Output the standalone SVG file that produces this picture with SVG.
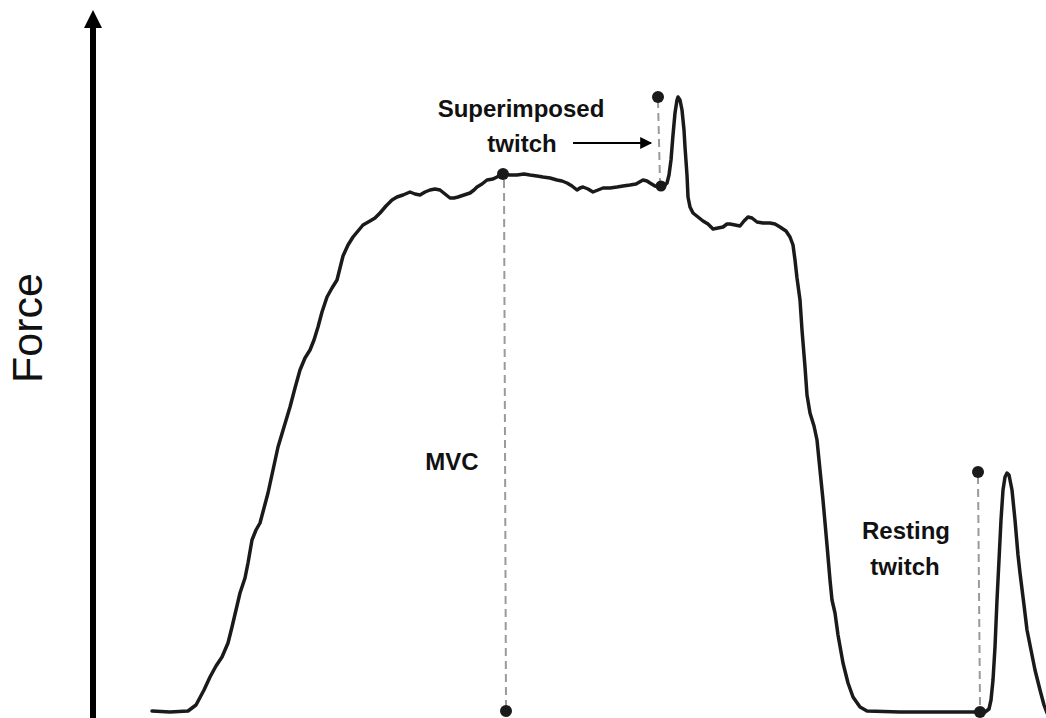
<svg xmlns="http://www.w3.org/2000/svg" width="1046" height="718" viewBox="0 0 1046 718">
<style>
.lbl{font-family:"Liberation Sans",Arial,sans-serif;font-weight:bold;font-size:24px;fill:#111;text-anchor:middle}
.axis-lbl{font-family:"Liberation Sans",Arial,sans-serif;font-size:43px;fill:#111;text-anchor:middle}
.dash{stroke:#9a9a9a;stroke-width:2;stroke-dasharray:8 5;fill:none}
.dot{fill:#1a1a1a}
.curve{fill:none;stroke:#1a1a1a;stroke-width:3.5;stroke-linejoin:round;stroke-linecap:round}
</style>
<defs>
<marker id="arr" viewBox="0 0 10 10" refX="9" refY="5" markerWidth="16" markerHeight="12" markerUnits="userSpaceOnUse" orient="auto">
<path d="M0,0 L10,5 L0,10 z" fill="#000"/>
</marker>
</defs>
<rect width="1046" height="718" fill="#fff"/>
<g id="axis">
<line x1="93" y1="718" x2="93" y2="26" stroke="#000" stroke-width="6"/>
<polygon points="93,10 84,28 102,28" fill="#000"/>
<text class="axis-lbl" transform="translate(42,328) rotate(-90)">Force</text>
</g>
<g id="trace">
<path class="curve" d="M152,711 L170,712 L188,711 L196,705 L204,690 L210,677 L216,666 L222,657 L228,643 L232,627 L236,610 L240,593 L245,578 L248,563 L252,540 L256,530 L260,523 L264,508 L268,493 L273,470 L278,447 L284,427 L290,407 L295,388 L300,370 L305,358 L310,350 L314,340 L318,327 L322,312 L327,297 L332,288 L337,280 L340,268 L343,256 L348,245 L353,237 L358,231 L363,225 L370,221 L375,218 L380,213 L386,206 L392,200 L397,197 L403,195 L410,192 L415,194 L420,195 L425,192 L430,190 L435,189 L440,190 L445,194 L450,198 L454,198 L458,197 L464,195 L470,193 L474,190 L477,187 L482,184 L487,180 L493,179 L497,177 L502,174 L510,175 L517,175 L524,174 L530,175 L537,176 L543,177 L550,178 L557,180 L562,181 L567,183 L572,186 L577,190 L580,188 L583,187 L588,189 L593,192 L598,190 L603,188 L610,188 L617,187 L623,186 L630,185 L636,184 L643,180 L647,181 L650,183 L655,186 L660,187 L664,186 L667,183 L669,175 L671,160 L673,135 L675,113 L677,100 L678,97 L680,100 L682,110 L684,130 L685,147 L687,175 L688,197 L690,207 L693,213 L698,217 L703,221 L708,224 L713,229 L718,228 L723,227 L727,224 L730,224 L735,225 L740,226 L744,221 L748,217 L752,218 L757,222 L763,223 L770,223 L775,224 L780,227 L786,231 L790,237 L793,245 L795,260 L797,278 L800,300 L802,330 L805,367 L807,395 L810,413 L814,426 L817,440 L820,470 L823,500 L827,545 L830,580 L832,600 L835,613 L838,635 L843,663 L848,683 L853,697 L860,707 L867,711 L900,712 L940,712 L975,712 L985,712 L989,709 L991,700 L993,680 L995,647 L997,600 L999,560 L1001,520 L1003,490 L1005,477 L1007,473 L1009,475 L1012,490 L1015,520 L1018,555 L1020,573 L1024,605 L1027,630 L1030,645 L1035,670 L1040,690 L1044,705 L1047,713"/>
</g>
<g id="connectors">
<line class="dash" x1="504" y1="180" x2="506" y2="706"/>
<line class="dash" x1="658" y1="100" x2="660" y2="182"/>
<line class="dash" x1="978" y1="476" x2="980" y2="706"/>
<line x1="573" y1="143" x2="651" y2="143" stroke="#000" stroke-width="2" marker-end="url(#arr)"/>
</g>
<g id="mvc">
<circle class="dot" cx="503" cy="174" r="6"/>
<circle class="dot" cx="506" cy="711" r="6"/>
<text class="lbl" x="452" y="470">MVC</text>
</g>
<g id="superimposed-twitch">
<circle class="dot" cx="658" cy="97" r="6"/>
<circle class="dot" cx="661" cy="186" r="5.5"/>
<text class="lbl" x="521" y="117">Superimposed</text>
<text class="lbl" x="522" y="152">twitch</text>
</g>
<g id="resting-twitch">
<circle class="dot" cx="978" cy="472" r="6"/>
<circle class="dot" cx="980" cy="712" r="6"/>
<text class="lbl" x="906" y="539">Resting</text>
<text class="lbl" x="905" y="575">twitch</text>
</g>
</svg>
